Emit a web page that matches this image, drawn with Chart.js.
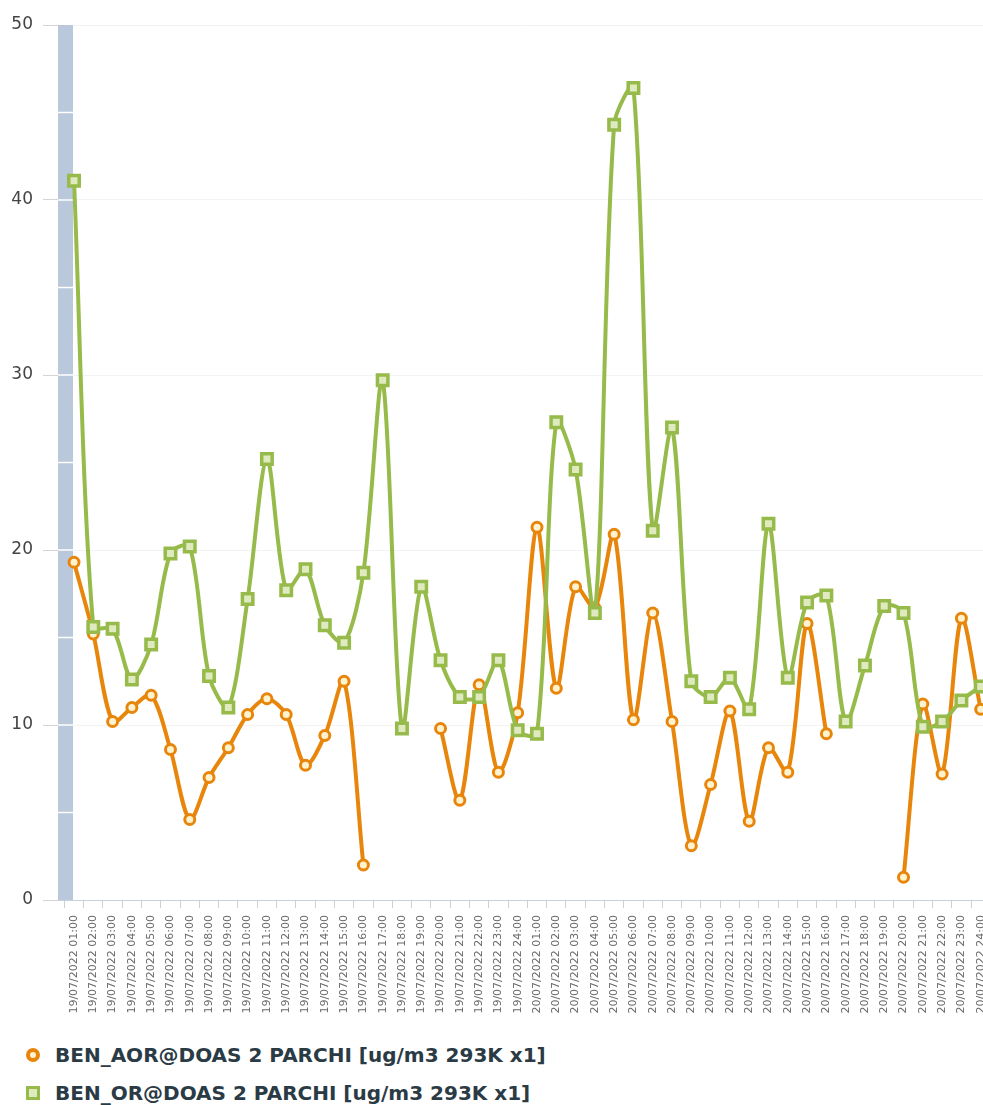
<!DOCTYPE html>
<html>
<head>
<meta charset="utf-8">
<title>BEN - DOAS 2 PARCHI</title>
<script src="https://cdn.jsdelivr.net/npm/chart.js@4.4.1/dist/chart.umd.min.js"></script>
<style>
    html, body { margin: 0; padding: 0; background: #ffffff; }
    #wrap { position: relative; width: 983px; height: 1105px; overflow: hidden; }
    #chart { position: absolute; left: 0; top: 0; }
    .legend-item {
        position: absolute; left: 26px; height: 22px;
        display: flex; align-items: center; white-space: nowrap;
        font: bold 20px "DejaVu Sans", Verdana, sans-serif; color: #2b3b45;
    }
    .marker { box-sizing: border-box; width: 14px; height: 14px; margin-right: 15px; }
    .marker.circle { border-radius: 50%; border: 4px solid #e8860c; background: #fff3cf; }
    .marker.square { border: 3.5px solid #97bb4a; background: #dfeac0; }
</style>
</head>
<body>
<div id="wrap">
    <canvas id="chart" width="983" height="1030"></canvas>
    <div id="legend"></div>
</div>
<script>
// --- Data ---
const days = ['19/07/2022', '20/07/2022'];
const hours = ['01:00', '02:00', '03:00', '04:00', '05:00', '06:00', '07:00', '08:00',
               '09:00', '10:00', '11:00', '12:00', '13:00', '14:00', '15:00', '16:00',
               '17:00', '18:00', '19:00', '20:00', '21:00', '22:00', '23:00', '24:00'];
const timeLabels = days.flatMap(d => hours.map(h => `${d} ${h}`));

const seriesNames = ['BEN_AOR@DOAS 2 PARCHI [ug/m3 293K x1]', 'BEN_OR@DOAS 2 PARCHI [ug/m3 293K x1]'];

// hourly benzene, null = missing reading
const benAor = [19.3, 15.2, 10.2, 11.0, 11.7, 8.6, 4.6, 7.0, 8.7, 10.6, 11.5, 10.6,
                7.7, 9.4, 12.5, 2.0, null, null, null, 9.8, 5.7, 12.3, 7.3, 10.7,
                21.3, 12.1, 17.9, 16.7, 20.9, 10.3, 16.4, 10.2, 3.1, 6.6, 10.8, 4.5,
                8.7, 7.3, 15.8, 9.5, null, null, null, 1.3, 11.2, 7.2, 16.1, 10.9];
const benOr = [41.1, 15.6, 15.5, 12.6, 14.6, 19.8, 20.2, 12.8, 11.0, 17.2, 25.2, 17.7,
               18.9, 15.7, 14.7, 18.7, 29.7, 9.8, 17.9, 13.7, 11.6, 11.6, 13.7, 9.7,
               9.5, 27.3, 24.6, 16.4, 44.3, 46.4, 21.1, 27.0, 12.5, 11.6, 12.7, 10.9,
               21.5, 12.7, 17.0, 17.4, 10.2, 13.4, 16.8, 16.4, 9.9, 10.2, 11.4, 12.2];

const yTicks = [0, 10, 20, 30, 40, 50];

const ORANGE = '#e8860c';
const GREEN = '#97bb4a';
const FONT = '"DejaVu Sans", Verdana, sans-serif';

// points on a numeric x axis so the first hour can sit inside the plot edge
const toPoints = values => values.map((v, i) => ({ x: i, y: v }));

// grey strip along the value axis, split every 5 units
const axisBand = {
    id: 'axisBand',
    beforeDatasetsDraw(chart) {
        const { ctx, chartArea, scales: { y } } = chart;
        ctx.save();
        ctx.fillStyle = '#b9c8da';
        ctx.fillRect(chartArea.left, chartArea.top, 15, chartArea.bottom - chartArea.top);
        ctx.strokeStyle = '#ffffff';
        ctx.lineWidth = 1.5;
        for (let v = 5; v < 50; v += 5) {
            const py = y.getPixelForValue(v);
            ctx.beginPath();
            ctx.moveTo(chartArea.left, py);
            ctx.lineTo(chartArea.left + 15, py);
            ctx.stroke();
        }
        ctx.restore();
    }
};

document.addEventListener("DOMContentLoaded", () => {
    const ctx = document.getElementById('chart').getContext('2d');
    new Chart(ctx, {
        type: 'line',
        data: {
            datasets: [
                {
                    label: seriesNames[0],
                    data: toPoints(benAor),
                    order: 1,
                    borderColor: ORANGE,
                    backgroundColor: '#fff3cf',
                    borderWidth: 4,
                    pointStyle: 'circle',
                    pointRadius: 5,
                    pointBorderWidth: 3,
                    tension: 0.3
                },
                {
                    label: seriesNames[1],
                    data: toPoints(benOr),
                    order: 0,
                    borderColor: GREEN,
                    backgroundColor: '#dfeac0',
                    borderWidth: 4,
                    pointStyle: 'rect',
                    pointRadius: 7.4,
                    pointBorderWidth: 3.5,
                    tension: 0.3
                }
            ]
        },
        options: {
            responsive: false,
            animation: false,
            layout: { autoPadding: false, padding: { top: 25, left: 0, right: 0, bottom: 0 } },
            plugins: { legend: { display: false }, tooltip: { enabled: false } },
            scales: {
                x: {
                    type: 'linear',
                    min: -0.83,
                    max: 47.12,
                    afterBuildTicks: scale => { scale.ticks = timeLabels.map((_, i) => ({ value: i })); },
                    // the last hour runs off the right edge, so no room is kept for its label
                    afterFit: scale => { scale.height = 130; scale.paddingRight = 0; },
                    ticks: {
                        autoSkip: false,
                        minRotation: 90,
                        maxRotation: 90,
                        padding: 7,
                        color: '#6a6a6a',
                        font: { family: FONT, size: 11 },
                        callback: v => timeLabels[v]
                    },
                    grid: { offset: true, drawOnChartArea: false, tickLength: 8, tickColor: '#c8d0d8' },
                    border: { display: true, color: '#c8d0d8' }
                },
                y: {
                    min: 0,
                    max: 50,
                    afterBuildTicks: scale => { scale.ticks = yTicks.map(v => ({ value: v })); },
                    afterFit: scale => { scale.width = 58; },
                    ticks: { padding: 10, color: '#444444', font: { family: FONT, size: 17 } },
                    grid: { color: '#f3f3f3', tickLength: 15, tickColor: '#d4d4d4' },
                    border: { display: false }
                }
            }
        },
        plugins: [axisBand]
    });

    // --- Legend below the chart ---
    const legend = document.getElementById('legend');
    const markers = ['circle', 'square'];
    seriesNames.forEach((name, i) => {
        const item = document.createElement('div');
        item.className = 'legend-item';
        item.style.top = (1044 + i * 38) + 'px';
        item.innerHTML = `<span class="marker ${markers[i]}"></span><span>${name}</span>`;
        legend.appendChild(item);
    });
});
</script>
</body>
</html>
